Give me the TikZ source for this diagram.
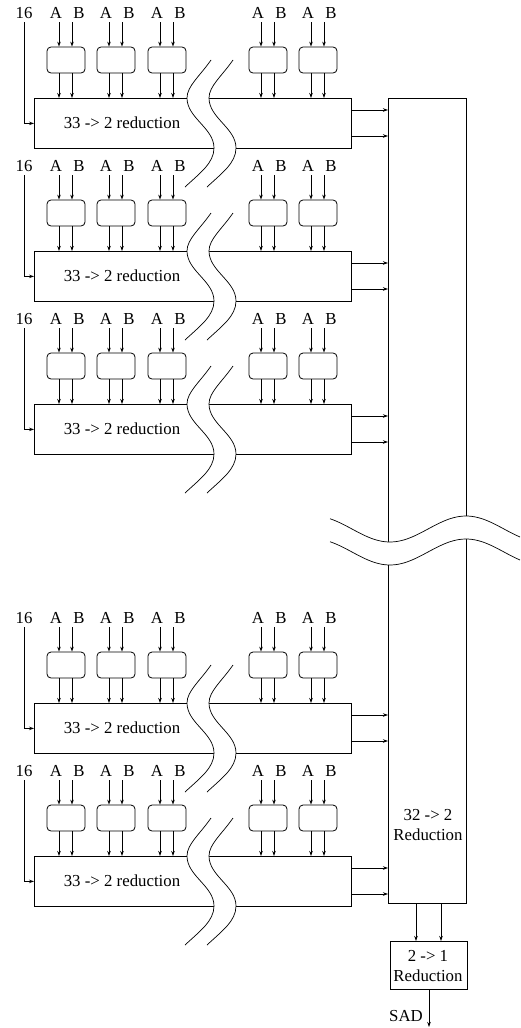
\documentclass[tikz,border=0pt]{standalone}
\usepackage{fontspec}
\setmainfont{Liberation Serif}
\usetikzlibrary{arrows.meta}
\begin{document}
\begin{tikzpicture}[x=1pt,y=-1pt,line width=0.8pt,
  arr/.style={-{Stealth[length=5pt,width=3.5pt]}},
  lbl/.style={font=\fontsize{16.8}{19.5}\selectfont,inner sep=0pt},
  sbox/.style={draw,rounded corners=4pt,minimum width=38pt,minimum height=26pt,inner sep=0pt},
  rbox/.style={draw,anchor=north west,inner sep=0pt},
  brk/.style={line width=0.7pt}]
\useasboundingbox (0,0) rectangle (521,1028);
% big 32->2 box
\node[rbox,minimum width=78pt,minimum height=805pt] (big) at (388,98) {};
\node[lbl,align=center] (bigt) at (428,825) {32 -> 2\\Reduction};
\fill[white] plot[domain=330:520,samples=60] (\x,{529-13*cos((\x-466)/76*180)})
  -- plot[domain=520:330,samples=60] (\x,{552-13*cos((\x-466)/76*180)}) -- cycle;
\draw[brk] plot[domain=330:520,samples=60] (\x,{529-13*cos((\x-466)/76*180)});
\draw[brk] plot[domain=330:520,samples=60] (\x,{552-13*cos((\x-466)/76*180)});
% blocks
\foreach \ty [count=\i] in {98,251,404,703,856}{
  \node[rbox,minimum width=317pt,minimum height=50pt] (red\i) at (34,\ty) {};
  \node[lbl] (redt\i) at (122,\ty+25) {33 -> 2 reduction};
  \node[lbl] (n\i) at (24,\ty-85) {16};
  \draw[arr] ([yshift=-3pt]n\i.south) |- (red\i.west);
  \foreach \xl [count=\j] in {47,97,148,249,299}{
    \node[sbox] (sb\i-\j) at (\xl+19,\ty-38) {};
    \node[lbl] (a\i-\j) at (\xl+9,\ty-85) {A};
    \node[lbl] (b\i-\j) at (\xl+32,\ty-85) {B};
    \coordinate (ta\i-\j) at (\xl+12,\ty-76);
    \coordinate (tb\i-\j) at (\xl+25,\ty-76);
    \draw[arr] (ta\i-\j) -- (ta\i-\j |- sb\i-\j.north);
    \draw[arr] (tb\i-\j) -- (tb\i-\j |- sb\i-\j.north);
    \draw[arr] (ta\i-\j |- sb\i-\j.south) -- (ta\i-\j |- red\i.north);
    \draw[arr] (tb\i-\j |- sb\i-\j.south) -- (tb\i-\j |- red\i.north);
  }
  \coordinate (oa\i) at (351,\ty+12);
  \coordinate (ob\i) at (351,\ty+38);
  \draw[arr] (oa\i) -- (oa\i -| big.west);
  \draw[arr] (ob\i) -- (ob\i -| big.west);
  \begin{scope}[shift={(187,\ty)}]
    \fill[white] (24,-38) .. controls (13,-22) and (0,-12) .. (0,0)
      .. controls (0,20) and (27,30) .. (27,50)
      .. controls (27,65) and (13,75) .. (-2,89)
      -- (20,89) .. controls (35,75) and (49,65) .. (49,50)
      .. controls (49,30) and (22,20) .. (22,0)
      .. controls (22,-12) and (35,-22) .. (46,-38) -- cycle;
    \draw[brk] (24,-38) .. controls (13,-22) and (0,-12) .. (0,0)
      .. controls (0,20) and (27,30) .. (27,50)
      .. controls (27,65) and (13,75) .. (-2,89);
    \draw[brk] (46,-38) .. controls (35,-22) and (22,-12) .. (22,0)
      .. controls (22,20) and (49,30) .. (49,50)
      .. controls (49,65) and (35,75) .. (20,89);
  \end{scope}
}
% 2->1 box
\node[rbox,minimum width=77pt,minimum height=48pt] (r21) at (390,941) {};
\node[lbl,align=center] (r21t) at (428,966) {2 -> 1\\Reduction};
\coordinate (d1) at (416,903);
\coordinate (d2) at (441,903);
\draw[arr] (d1) -- (d1 |- r21.north);
\draw[arr] (d2) -- (d2 |- r21.north);
\coordinate (sadend) at (429,1027);
\draw[arr] (sadend |- r21.south) -- (sadend);
\node[lbl] (sad) at (406,1016) {SAD};
\end{tikzpicture}
\end{document}
